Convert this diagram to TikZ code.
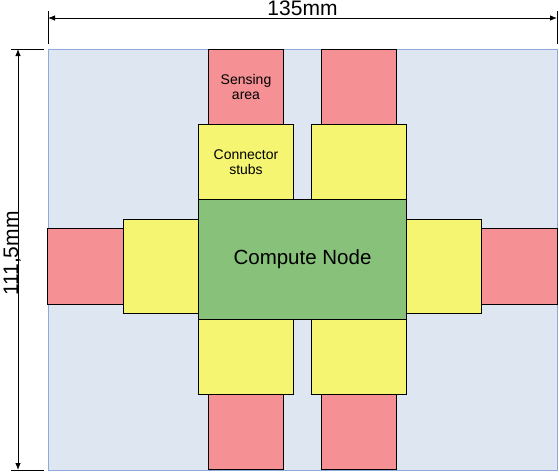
\documentclass[tikz,border=0pt]{standalone}
\usepackage{fontspec}
\setmainfont{Liberation Sans}
\usetikzlibrary{arrows.meta}
\usetikzlibrary{positioning}
\definecolor{BoardBlue}{RGB}{222,230,242}
\definecolor{BoardEdge}{RGB}{142,170,219}
\definecolor{SenseRed}{RGB}{245,145,149}
\definecolor{StubYellow}{RGB}{245,245,113}
\definecolor{NodeGreen}{RGB}{135,193,122}

\begin{document}
\begin{tikzpicture}[
 x=1pt, y=-1pt,
 board/.style = {draw=BoardEdge, fill=BoardBlue, rectangle, inner sep=0pt, outer sep=0pt,
                 minimum width=509pt, minimum height=421pt},
 sensebox/.style = {draw, fill=SenseRed, rectangle, inner sep=0pt, outer sep=0pt,
                    minimum width=75pt, minimum height=75pt, align=center,
                    font=\fontsize{14}{15.5}\selectfont},
 stubbox/.style = {draw, fill=StubYellow, rectangle, inner sep=0pt, outer sep=0pt,
                   minimum width=95pt, minimum height=75pt, align=center,
                   font=\fontsize{14}{15.5}\selectfont},
 sidestub/.style = {stubbox, minimum width=75pt, minimum height=94pt},
 computebox/.style = {draw, fill=NodeGreen, rectangle, inner sep=0pt, outer sep=0pt,
                      minimum width=208pt, minimum height=120pt,
                      font=\fontsize{20.5}{24}\selectfont},
 extline/.style = {draw, line width=0.8pt},
 dimline/.style = {draw, line width=0.8pt, {Latex[length=7pt,width=5.5pt]}-{Latex[length=7pt,width=5.5pt]}},
 dimtext/.style = {font=\fontsize{21}{25}\selectfont, inner sep=0pt},
                        ]
    \useasboundingbox (0,0) rectangle (559,471);

    \node [board, anchor=north west] (board) at (48,49) {};
    \node [computebox] (cn) at (board.center) {Compute Node};

    % stubs
    \node [stubbox, anchor=south west] (stubtl) at (cn.north west) {Connector\\stubs};
    \node [stubbox, anchor=south east] (stubtr) at (cn.north east) {};
    \node [stubbox, anchor=north west] (stubbl) at (cn.south west) {};
    \node [stubbox, anchor=north east] (stubbr) at (cn.south east) {};
    \node [sidestub, left=0pt of cn, yshift=-7pt] (stubl) {};
    \node [sidestub, right=0pt of cn, yshift=-7pt] (stubr) {};

    % sensing areas
    \node [sensebox, above=0pt of stubtl] (sensetl) {Sensing\\area};
    \node [sensebox, above=0pt of stubtr] (sensetr) {};
    \node [sensebox, below=0pt of stubbl] (sensebl) {};
    \node [sensebox, below=0pt of stubbr] (sensebr) {};
    \node [sensebox, left=0pt of stubl, minimum width=76pt, minimum height=76pt] (sensel) {};
    \node [sensebox, right=0pt of stubr, minimum width=76pt, minimum height=76pt] (senser) {};

    % dimensions
    \coordinate (wl) at ([yshift=31pt]board.north west);
    \coordinate (wr) at ([yshift=31pt]board.north east);
    \coordinate (wltop) at ([yshift=38pt]board.north west);
    \coordinate (wrtop) at ([yshift=38pt]board.north east);
    \coordinate (wlbot) at ([yshift=5pt]board.north west);
    \coordinate (wrbot) at ([yshift=5pt]board.north east);
    \coordinate (ht) at ([xshift=-30pt]board.north west);
    \coordinate (hb) at ([xshift=-30pt]board.south west);
    \coordinate (htl) at ([xshift=-37pt]board.north west);
    \coordinate (htr) at ([xshift=-4pt]board.north west);
    \coordinate (hbl) at ([xshift=-37pt]board.south west);
    \coordinate (hbr) at ([xshift=-4pt]board.south west);

    \draw [extline] (wltop) -- (wlbot);
    \draw [extline] (wrtop) -- (wrbot);
    \draw [extline] (htl) -- (htr);
    \draw [extline] (hbl) -- (hbr);
    \draw [dimline] (wl) -- node [dimtext, anchor=base, yshift=2pt, pos=0.5] (wtext) {135mm} (wr);
    \draw [dimline] (ht) -- node [dimtext, rotate=90, anchor=base, pos=0.486] (htext) {111,5mm} (hb);

\end{tikzpicture}
\end{document}
